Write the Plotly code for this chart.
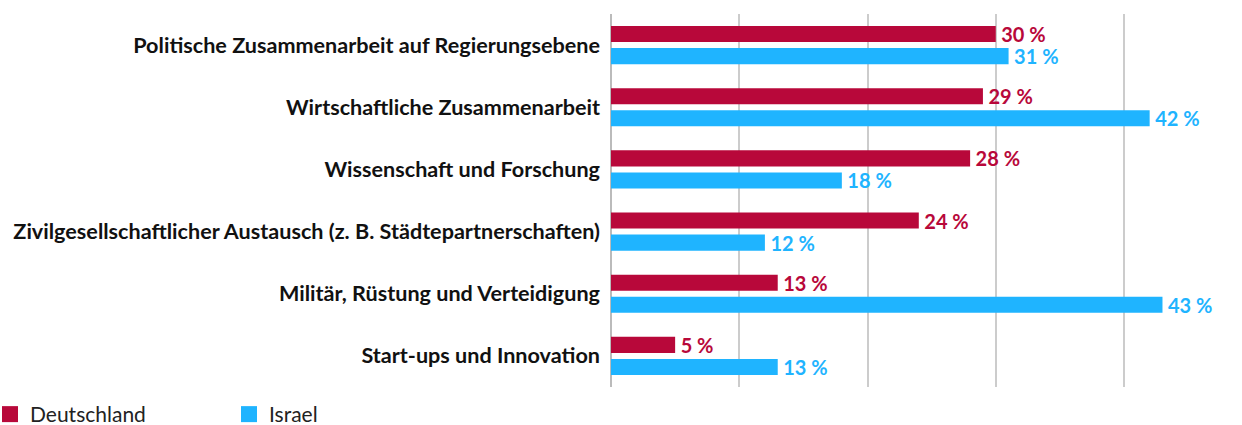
import plotly.graph_objects as go

categories = [
    "Politische Zusammenarbeit auf Regierungsebene",
    "Wirtschaftliche Zusammenarbeit",
    "Wissenschaft und Forschung",
    "Zivilgesellschaftlicher Austausch (z. B. Städtepartnerschaften)",
    "Militär, Rüstung und Verteidigung",
    "Start-ups und Innovation",
]
deutschland = [30, 29, 28, 24, 13, 5]
israel = [31, 42, 18, 12, 43, 13]

RED = "#B8083A"
BLUE = "#1FB4FF"
FONT = "Lato, 'Open Sans', sans-serif"

fig = go.Figure()
for name, vals, col in [("Deutschland", deutschland, RED), ("Israel", israel, BLUE)]:
    fig.add_trace(go.Bar(
        y=categories, x=vals, orientation="h", name=name,
        marker=dict(color=col, line=dict(width=0)),
        text=[f"\u2009{v} %" for v in vals],
        textposition="outside", cliponaxis=False, constraintext="none",
        textfont=dict(family=FONT, size=20, color=col, weight="bold"),
        showlegend=False, hoverinfo="skip",
    ))
    # legend entry with a square swatch
    fig.add_trace(go.Scatter(
        x=[None], y=[None], mode="markers", name=name,
        marker=dict(symbol="square", size=20, color=col),
        showlegend=True,
    ))

fig.update_layout(
    width=1242, height=425,
    margin=dict(l=611, r=0, t=14, b=38),
    paper_bgcolor="white", plot_bgcolor="white",
    barmode="group", bargap=0.29, bargroupgap=0.27,
    font=dict(family=FONT, size=21, color="#111"),
    xaxis=dict(range=[0, 49.2], dtick=10, showticklabels=False,
               showgrid=True, gridcolor="#CCCCCC", gridwidth=1.5,
               zeroline=True, zerolinecolor="#BBBBBB", zerolinewidth=1.5,
               fixedrange=True),
    yaxis=dict(autorange="reversed", showgrid=False, ticks="",
               ticklabelstandoff=10,
               tickfont=dict(family=FONT, size=21.6, color="#111", weight="bold"),
               fixedrange=True),
    legend=dict(orientation="h", xref="container", yref="container",
                x=0, y=0.073, xanchor="left", yanchor="top",
                indentation=-10,
                entrywidth=204, entrywidthmode="pixels",
                font=dict(family=FONT, size=21, color="#222")),
    showlegend=True,
)

fig.write_html("out.html")
